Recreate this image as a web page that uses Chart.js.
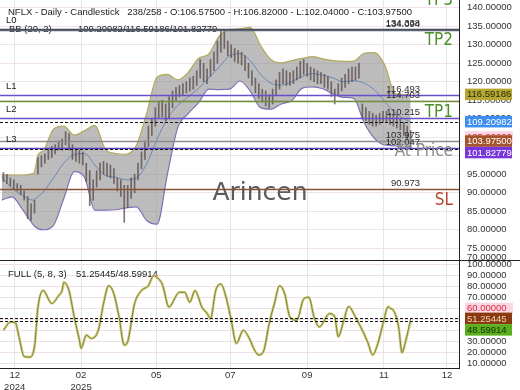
<!DOCTYPE html>
<html>
<head>
<meta charset="utf-8">
<script src="https://cdn.jsdelivr.net/npm/chart.js@4.4.1/dist/chart.umd.min.js"></script>
<style>
  html, body { margin: 0; padding: 0; background: #fff; }
  #wrap { width: 520px; height: 390px; }
</style>
</head>
<body>
<div id="wrap"><canvas id="nflx" width="520" height="390"></canvas></div>
<script>
// NFLX daily, x axis is the bar number (238 of 258 slots used)
const tickBars = [7.5, 46, 89.5, 132.5, 177, 221.5, 258];
const tickLabels = [['12', '2024'], ['02', '2025'], '05', '07', '09', '11', '12'];
const priceTicks = [75, 80, 85, 90, 95, 100, 105, 110, 115, 120, 125, 130, 135, 140];
const stochTicks = [10, 20, 30, 40, 50, 60, 70, 80, 90, 100];

// candles (one every second bar, high / low only - bodies are 1px anyway)
const candleHigh = [
  95.5, 95, 94, 93.5, 92.5, 92, 90.5, 89, 87, 88,
  99.5, 100, 100.5, 102, 102.5, 103, 104, 104.5, 106.5, 106,
  103, 102, 101.5, 101, 98, 96, 93.5, 96, 98, 98.5,
  98, 97.5, 96.5, 94, 93.5, 92, 92, 94, 95, 98,
  101, 104, 108, 110, 113, 114.5, 115, 114, 116, 117.5,
  118.5, 119, 119.5, 120, 121, 121.5, 123, 126, 125, 123.5,
  126, 128, 131, 134, 133.5, 131, 130, 129, 128.5, 128,
  127, 125, 123, 121, 119.5, 118, 117.5, 116.5, 118, 120.5,
  122.5, 123.5, 123, 122.5, 123, 124, 125.5, 126, 125, 124,
  123.5, 123, 122.5, 122, 121.5, 120, 118, 119.5, 121, 122,
  123.5, 124, 124, 125, 114, 113, 112, 111.5, 111, 111.5,
  112, 112, 111.5, 111, 111, 110, 109, 108, 106.82
];
const candleLow = [
  93, 92.5, 91.8, 91, 90.5, 89.5, 88, 83, 82.5, 84.5,
  95, 97, 98, 99, 99.5, 100.5, 101.5, 101.5, 103, 101.5,
  99, 98.5, 98, 97.5, 93, 86.5, 88, 91.5, 93.5, 95,
  94.5, 94, 92.5, 90.5, 89, 82, 86, 88.5, 90, 93.5,
  96.5, 99, 102.5, 105.5, 108, 110, 110.5, 109.5, 110, 113,
  115, 116, 116.5, 117, 117.5, 118, 119, 121, 120, 119.5,
  121.5, 123, 125, 128, 129, 127, 126.5, 125.5, 125, 124.5,
  123, 121, 119, 117, 115.5, 114.5, 113.5, 113, 114, 116.5,
  118, 119.5, 119, 119, 119.5, 120.5, 121, 122, 121.5, 120.5,
  120, 119.5, 119.5, 118.5, 118, 116, 114, 116.5, 117.5, 118.5,
  119.5, 120, 120.5, 121, 110, 109.5, 108.5, 108, 108, 108.5,
  109, 109, 108.5, 108, 107.5, 107, 105.5, 104.5, 102.04
];
const lastOpen = 106.575;
const lastClose = 103.975;

// Bollinger bands (20, 2)
const bbBars = [0, 6, 12, 18, 19, 21, 24, 30, 36, 42, 48, 54, 60, 66, 72, 78, 84, 90, 96, 102, 108, 114,
  120, 126, 132, 138, 144, 150, 156, 162, 168, 174, 180, 186, 192, 198, 204, 210, 216, 222, 228, 234, 237];
const bbUpper = [94.8, 94.8, 94.8, 95.2, 95.6, 100.2, 101.3, 107.2, 108, 105.6, 106.8, 108.2, 101.8, 100.6,
  100.4, 102.8, 111.5, 121.2, 122, 120.5, 122.5, 126.3, 127.5, 132.3, 134.1, 134.3, 134.7, 129.8, 126,
  125.1, 125.7, 126.3, 126.8, 126.2, 125.7, 125.5, 125.6, 127.7, 127.9, 124.5, 116.8, 116.5, 116.59186];
const bbMid = [94.3, 91.2, 89.3, 88, 88.3, 88.9, 90.2, 94, 98, 100.3, 100.6, 97.5, 94.7, 94.2, 93.5, 94,
  97.8, 104.5, 110, 113.6, 115.9, 118.2, 121, 124, 127, 127.6, 125.7, 122, 119.6, 119.1, 120, 121.4,
  122.2, 121.8, 121, 120, 120.3, 119.6, 117.8, 114.6, 111.6, 109.8, 109.20982];
const bbLower = [88, 88.9, 85.5, 81.5, 81, 80.3, 80, 81.2, 88.5, 95.7, 94.2, 85.3, 85.3, 85.4, 85.9, 86.2,
  82.5, 81.5, 95, 107.6, 111.4, 114.3, 118, 117.9, 118, 120.2, 117.5, 113, 112.6, 114, 114.9, 118.2,
  118.6, 118.1, 116.7, 115.8, 115.5, 109, 104.7, 102.9, 102.7, 102, 101.82779];

// full stochastic (5, 8, 3)
const stochBars = [1, 5, 8, 10, 13, 16, 19, 21, 24, 29, 33, 35, 36, 39, 42, 45, 46, 49, 52, 56,
  59, 62, 65, 68, 71, 73, 77, 81, 85, 88, 90, 93, 97, 98, 103, 106, 109, 112, 116, 119,
  121, 124, 127, 130, 133, 136, 140, 143, 147, 149, 152, 155, 158, 161, 164, 167, 171, 175, 178, 181,
  184, 190, 193, 195, 198, 201, 205, 208, 212, 215, 218, 221, 224, 225, 227, 230, 232, 234, 237];
const stochK = [40.5, 48, 47, 34.5, 16.5, 16, 25.5, 61.5, 76.6, 64.8, 72, 76.6, 84, 76.6, 52.5, 31.5, 24, 36, 33, 40.5,
  64.8, 81, 73.6, 52.5, 27, 30, 64.8, 76.6, 81, 90, 88.5, 82.5, 61.5, 63, 75, 75, 66, 76.6, 61.5, 55.8,
  51, 76.6, 82.5, 70.5, 49.5, 28.5, 40.5, 34.5, 21, 18, 22.5, 46.6, 64.6, 81, 73.6, 52.5, 49.5, 69, 70.5, 52.5,
  43.5, 55.6, 52.5, 34.5, 48, 62, 52.5, 43.5, 30, 18, 28.5, 46.6, 62, 60.5, 58.6, 43.5, 20, 30, 51.25445];
const stochD = [40.5, 48, 47, 34.5, 16.5, 16, 25.5, 61.5, 76.6, 64.8, 72, 76.6, 84, 76.6, 52.5, 31.5, 24, 36, 33, 40.5,
  64.8, 81, 73.6, 52.5, 27, 30, 64.8, 76.6, 81, 90, 88.5, 82.5, 61.5, 63, 75, 75, 66, 76.6, 61.5, 55.8,
  51, 76.6, 82.5, 70.5, 49.5, 28.5, 40.5, 34.5, 21, 18, 22.5, 46.6, 64.6, 81, 73.6, 52.5, 49.5, 69, 70.5, 52.5,
  43.5, 55.6, 52.5, 34.5, 48, 62, 52.5, 43.5, 30, 18, 28.5, 46.6, 62, 60.5, 58.6, 43.5, 20, 30, 48.59914];

// drawn levels on the price panel
const levelPrices = [144.8, 134.338, 134.094, 116.493, 114.703, 110.215, 103.975, 102.047, 90.973];
const levelTags = ['TP3', 'L0', 'TP2', 'L1', 'TP1', 'L2', 'At Price', 'L3', 'SL'];

// ---- styles ----
const levelColors = ['#6f8f3c', '#3f4656', '#5c6474', '#6a50c8', '#6f8f3c', '#6a50c8', '#8c8c8c', '#5b3fbf', '#8a5236'];
const tagColors = { TP: '#4f8f2c', 'At Price': '#8a8a8a', SL: '#b8462c' };
const FONT = '"Liberation Sans", Arial, sans-serif';

Chart.defaults.font.family = FONT;
Chart.defaults.font.size = 9.5;
Chart.defaults.color = '#333';

const pt = (xs, ys) => xs.map((b, i) => ({ x: b, y: ys[i] }));
const candleBars = candleHigh.map((_, i) => 1 + i * 2);
const candleData = candleHigh.map((h, i) => ({ x: candleBars[i], y: [candleLow[i], h] }));

const last = a => a[a.length - 1];
const fmt5 = v => v.toFixed(5);

const drawText = (ctx, txt, x, y, font, color, align, base) => {
  ctx.font = font;
  ctx.fillStyle = color;
  ctx.textAlign = align || 'left';
  ctx.textBaseline = base || 'middle';
  ctx.fillText(txt, x, y);
};

const overlay = {
  id: 'overlay',
  beforeDraw(chart) {
    // pink highlight behind a couple of axis labels
    const { ctx } = chart;
    ctx.save();
    ctx.fillStyle = '#fbd5e2';
    [[chart.scales.y, 105], [chart.scales.y2, 60]].forEach(([s, v]) => {
      const py = s.getPixelForValue(v);
      ctx.fillRect(s.left + 6, py - 6, 48, 12);
    });
    ctx.restore();
  },
  beforeDatasetsDraw(chart) {
    const { ctx, chartArea } = chart;
    const ys = chart.scales.y2;
    ctx.save();
    const t = chartArea.top;
    drawText(ctx, 'NFLX - Daily - Candlestick   ' + '238/258 - O:' + fmt5(lastOpen) + ' - H:' + fmt5(last(candleHigh)) +
      ' - L:' + fmt5(last(candleLow)) + ' - C:' + fmt5(lastClose), 8, t + 12, '9.5px ' + FONT, '#222');
    drawText(ctx, 'BB (20, 2)', 9, t + 29.5, '9.5px ' + FONT, '#222');
    drawText(ctx, fmt5(last(bbMid)) + '/' + fmt5(last(bbUpper)) + '/' + fmt5(last(bbLower)), 78, t + 29.5, '9.5px ' + FONT, '#222');
    drawText(ctx, 'FULL (5, 8, 3)', 8, ys.top + 14, '9.5px ' + FONT, '#222');
    drawText(ctx, fmt5(last(stochK)) + '/' + fmt5(last(stochD)), 76, ys.top + 14, '9.5px ' + FONT, '#222');
    // watermark
    drawText(ctx, 'Arincen', 260, chart.scales.y.getPixelForValue(90) + 1, '25px "DejaVu Sans"', '#5a5a5a', 'center');
    ctx.restore();
  },
  afterDatasetsDraw(chart) {
    const { ctx, chartArea } = chart;
    const ym = chart.scales.y, ys = chart.scales.y2;
    ctx.save();
    ctx.beginPath();
    ctx.rect(chartArea.left, ym.top, chartArea.right - chartArea.left, ym.bottom - ym.top);
    ctx.clip();
    levelPrices.forEach((p, i) => {
      const py = Math.round(ym.getPixelForValue(p)) + 0.5;
      ctx.strokeStyle = levelColors[i];
      ctx.lineWidth = 1.3;
      ctx.beginPath();
      ctx.moveTo(chartArea.left, py);
      ctx.lineTo(chartArea.right, py);
      ctx.stroke();
      drawText(ctx, p.toFixed(3), chartArea.right - 39, py - 1, '9.5px ' + FONT, '#2a2a2a', 'right', 'bottom');
      if (/^L\d/.test(levelTags[i])) {
        drawText(ctx, levelTags[i], 6, py - 9.5, '9.5px ' + FONT, '#222');
      }
    });
    ctx.restore();

    // dashed current value lines
    ctx.save();
    ctx.setLineDash([3, 2]);
    ctx.strokeStyle = '#111';
    ctx.lineWidth = 1;
    [[ym, last(bbMid)], [ym, last(bbLower)], [ys, last(stochK)], [ys, last(stochD)]].forEach(([s, v]) => {
      const py = Math.round(s.getPixelForValue(v)) + 0.5;
      ctx.beginPath();
      ctx.moveTo(chartArea.left, py);
      ctx.lineTo(chartArea.right, py);
      ctx.stroke();
    });
    ctx.restore();

    // TP / SL tags, right side under their line
    ctx.save();
    levelPrices.forEach((p, i) => {
      const tag = levelTags[i];
      if (/^L\d/.test(tag)) return;
      const col = tagColors[tag] || tagColors[tag.slice(0, 2)];
      const py = ym.getPixelForValue(p);
      drawText(ctx, tag, chartArea.right - 6, py + 11, '17px "DejaVu Sans Condensed", "DejaVu Sans"', col, 'right');
    });
    ctx.restore();
  },
  afterDraw(chart) {
    const { ctx, chartArea } = chart;
    const ym = chart.scales.y, ys = chart.scales.y2;
    ctx.save();
    // panel separator
    ctx.strokeStyle = '#222';
    ctx.lineWidth = 1;
    ctx.beginPath();
    ctx.moveTo(chartArea.left, Math.round(ys.top) + 0.5);
    ctx.lineTo(chart.width, Math.round(ys.top) + 0.5);
    ctx.stroke();
    drawText(ctx, fmt5(70), ym.left + 8, ym.bottom - 3, '9.5px ' + FONT, '#333');

    // value badges on the right axis
    const badges = [
      [ym, last(bbUpper), '#b5a72f', '#2b2a10'],
      [ym, last(bbMid), '#3d8ef0', '#fff'],
      [ym, lastClose, '#a4532c', '#fff'],
      [ym, last(bbLower), '#7636dc', '#fff'],
      [ys, last(stochK), '#8a3a10', '#f3d2b4'],
      [ys, last(stochD), '#5caf1c', '#17300a']
    ];
    const h = 11.5;
    let prevBottom = -1e9;
    badges.map(b => ({ b, py: b[0].getPixelForValue(b[1]) }))
      .sort((a, c) => a.py - c.py)
      .forEach(({ b, py }) => {
        let top = py - h / 2;
        if (top < prevBottom) top = prevBottom;
        prevBottom = top + h;
        const s = b[0];
        ctx.fillStyle = b[2];
        ctx.fillRect(s.left + 6, top, 47, h);
        drawText(ctx, fmt5(b[1]), s.left + 8, top + h / 2 + 0.5, '9.5px ' + FONT, b[3]);
      });
    ctx.restore();
  }
};

new Chart(document.getElementById('nflx'), {
  type: 'line',
  data: {
    datasets: [
      {
        type: 'bar',
        data: candleData,
        yAxisID: 'y',
        backgroundColor: 'rgba(85,72,72,0.75)',
        barThickness: 1,
        order: 0
      },
      {
        data: pt(bbBars, bbUpper),
        yAxisID: 'y',
        borderColor: '#b3a95a',
        borderWidth: 1.2,
        backgroundColor: 'rgba(140,140,140,0.58)',
        fill: '+1',
        pointRadius: 0,
        cubicInterpolationMode: 'monotone',
        order: 2
      },
      {
        data: pt(bbBars, bbLower),
        yAxisID: 'y',
        borderColor: '#7866c8',
        borderWidth: 1.2,
        pointRadius: 0,
        cubicInterpolationMode: 'monotone',
        order: 2
      },
      {
        data: pt(bbBars, bbMid),
        yAxisID: 'y',
        borderColor: '#6a86b8',
        borderWidth: 1,
        pointRadius: 0,
        cubicInterpolationMode: 'monotone',
        order: 1
      },
      {
        data: pt(stochBars, stochD),
        yAxisID: 'y2',
        borderColor: '#cfcf78',
        borderWidth: 2.6,
        pointRadius: 0,
        cubicInterpolationMode: 'monotone',
        order: 1
      },
      {
        data: pt(stochBars, stochK),
        yAxisID: 'y2',
        borderColor: '#767640',
        borderWidth: 0.9,
        pointRadius: 0,
        cubicInterpolationMode: 'monotone',
        segment: {
          borderColor: c => (c.p0.parsed.y > 85 && c.p1.parsed.y > 85) ? '#d0442e' : undefined
        },
        order: 0
      }
    ]
  },
  options: {
    responsive: false,
    animation: false,
    devicePixelRatio: 1,
    layout: { padding: 0 },
    plugins: { legend: { display: false }, tooltip: { enabled: false } },
    scales: {
      x: {
        type: 'linear',
        min: -1,
        max: 265,
        offset: false,
        grid: { color: '#e6e6e6', drawTicks: false, offset: false },
        border: { color: '#222' },
        afterBuildTicks: s => { s.ticks = tickBars.map(v => ({ value: v })); },
        afterFit: s => { s.height = 22; s.paddingLeft = 0; s.paddingRight = 0; },
        ticks: {
          autoSkip: false,
          maxRotation: 0,
          padding: 2,
          color: '#333',
          callback: (v, i) => tickLabels[i]
        }
      },
      y: {
        position: 'right',
        stack: 'panels',
        stackWeight: 2.41,
        min: 71.8,
        max: 142.1,
        grid: { color: '#f0e3ea', drawTicks: false },
        border: { color: '#222' },
        afterBuildTicks: s => { s.ticks = priceTicks.map(v => ({ value: v })); },
        afterFit: s => { s.width = 61; s.paddingTop = 0; s.paddingBottom = 0; },
        ticks: {
          autoSkip: false,
          padding: 8,
          color: c => c.tick.value === 105 ? '#d42a3a' : '#333',
          callback: v => fmt5(v)
        }
      },
      y2: {
        position: 'right',
        stack: 'panels',
        stackWeight: 1,
        min: 6.1,
        max: 104.3,
        grid: { color: '#ecdfe6', drawTicks: false },
        border: { color: '#222' },
        afterBuildTicks: s => { s.ticks = stochTicks.map(v => ({ value: v })); },
        afterFit: s => { s.width = 61; s.paddingTop = 0; s.paddingBottom = 0; },
        ticks: {
          autoSkip: false,
          padding: 8,
          color: c => c.tick.value === 60 ? '#d42a3a' : '#333',
          callback: v => fmt5(v)
        }
      }
    }
  },
  plugins: [overlay]
});
</script>
</body>
</html>
